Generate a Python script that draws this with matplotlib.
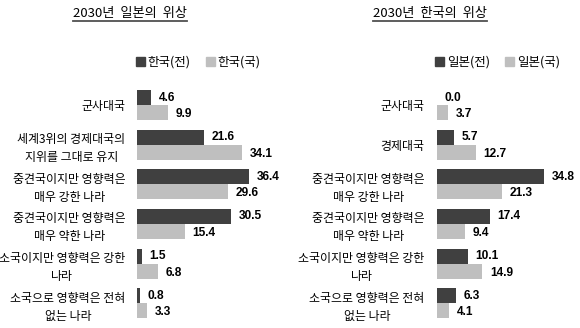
import matplotlib
matplotlib.use("Agg")
import matplotlib.pyplot as plt
from matplotlib.patches import Patch
from matplotlib.lines import Line2D

plt.rcParams['font.family'] = ['Noto Sans CJK KR', 'DejaVu Sans']

DARK = '#404040'
LIGHT = '#bfbfbf'

# left panel: Korea's view of Japan in 2030
left_title = '2030년  일본의  위상'
left_cats = ['군사대국',
             '세계3위의 경제대국의\n지위를 그대로 유지',
             '중견국이지만 영향력은\n매우 강한 나라',
             '중견국이지만 영향력은\n매우 약한 나라',
             '소국이지만 영향력은 강한\n나라',
             '소국으로 영향력은 전혀\n없는 나라']
left_series = ['한국(전)', '한국(국)']
left_dark = [4.6, 21.6, 36.4, 30.5, 1.5, 0.8]
left_light = [9.9, 34.1, 29.6, 15.4, 6.8, 3.3]

# right panel: Japan's view of Korea in 2030
right_title = '2030년  한국의  위상'
right_cats = ['군사대국',
              '경제대국',
              '중견국이지만 영향력은\n매우 강한 나라',
              '중견국이지만 영향력은\n매우 약한 나라',
              '소국이지만 영향력은 강한\n나라',
              '소국으로 영향력은 전혀\n없는 나라']
right_series = ['일본(전)', '일본(국)']
right_dark = [0.0, 5.7, 34.8, 17.4, 10.1, 6.3]
right_light = [3.7, 12.7, 21.3, 9.4, 14.9, 4.1]

W, H = 580, 328
fig = plt.figure(figsize=(W / 100, H / 100), dpi=100)

pitch = 39.66
ax_top = 105 - pitch * 0.5
ax_h = pitch * 6
ax_w = 130
bh = 0.378


def panel(left_px, title, title_cx, cats, series, dark, light):
    ax = fig.add_axes([left_px / W, 1 - (ax_top + ax_h) / H, ax_w / W, ax_h / H])
    n = len(cats)
    ys = list(range(n))
    ax.barh([y - bh / 2 for y in ys], dark, height=bh, color=DARK)
    ax.barh([y + bh / 2 for y in ys], light, height=bh, color=LIGHT)
    for y, d, l in zip(ys, dark, light):
        ax.annotate(f'{d:.1f}', (d, y - bh / 2), xytext=(5.5, 0), textcoords='offset points',
                    ha='left', va='center', fontsize=8.6, fontweight='bold',
                    family='Liberation Sans')
        ax.annotate(f'{l:.1f}', (l, y + bh / 2), xytext=(5.5, -1), textcoords='offset points',
                    ha='left', va='center', fontsize=8.6, fontweight='bold',
                    family='Liberation Sans')
    ax.set_xlim(0, ax_w / 3.08)
    ax.set_ylim(n - 0.5, -0.5)
    ax.set_xticks([])
    ax.set_yticks(ys)
    ax.set_yticklabels(cats, fontsize=8.6, linespacing=1.5)
    for t in ax.get_yticklabels():
        t.set_multialignment('center')
    ax.tick_params(axis='y', length=0, pad=8.5)
    for s in ax.spines.values():
        s.set_visible(False)

    handles = [Patch(color=DARK), Patch(color=LIGHT)]
    ax.legend(handles, series, loc='center left',
              bbox_to_anchor=(-0.01, 1 + 23 / ax_h), ncol=2, frameon=False,
              borderaxespad=0, borderpad=0, handlelength=0.7, handleheight=0.7,
              handletextpad=0.25, columnspacing=1.2, prop={'size': 9})

    # underlined title
    tt = fig.text(title_cx / W, 1 - 14 / H, title, ha='center', va='center', fontsize=9.5)
    fig.canvas.draw()
    bb = tt.get_window_extent()
    uy = (H - 21) / H
    fig.add_artist(Line2D([bb.x0 / W, bb.x1 / W], [uy, uy], color='#505050', lw=1.3))
    return ax


panel(137.3, left_title, 130, left_cats, left_series, left_dark, left_light)
panel(436.5, right_title, 430, right_cats, right_series, right_dark, right_light)

fig.savefig('out.png', dpi=100)
